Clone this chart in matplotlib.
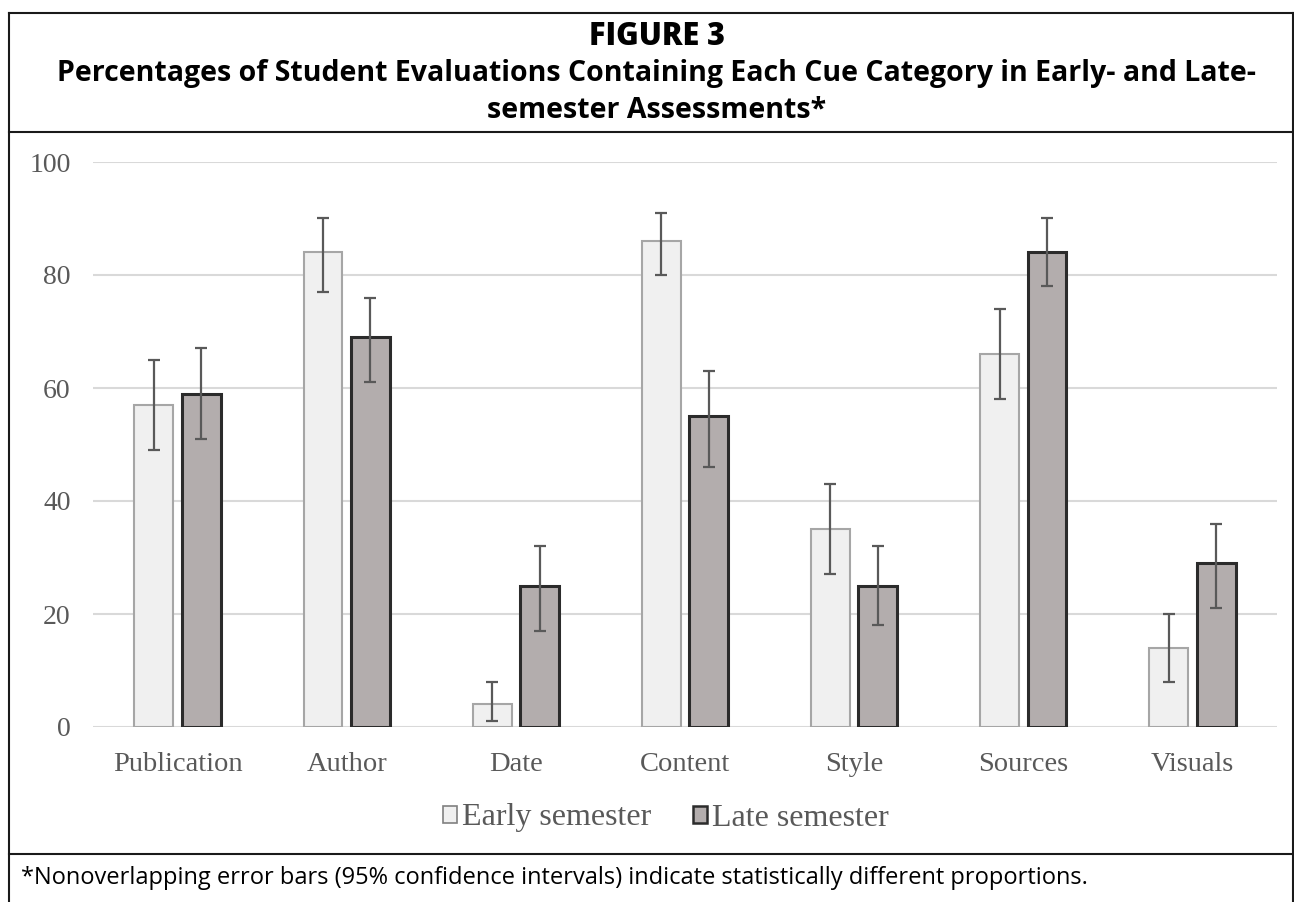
import numpy as np
import matplotlib
matplotlib.use("Agg")
import matplotlib.pyplot as plt
from matplotlib.lines import Line2D
from matplotlib.patches import Patch

categories = ["Publication", "Author", "Date", "Content", "Style", "Sources", "Visuals"]
early = [57, 84, 4, 86, 35, 66, 14]
early_lo = [49, 77, 1, 80, 27, 58, 8]
early_hi = [65, 90, 8, 91, 43, 74, 20]
late = [59, 69, 25, 55, 25, 84, 29]
late_lo = [51, 61, 17, 46, 18, 78, 21]
late_hi = [67, 76, 32, 63, 32, 90, 36]
yticks = [0, 20, 40, 60, 80, 100]

W, H = 1294, 902
fig = plt.figure(figsize=(W / 100, H / 100), dpi=100)

def fx(px):
    return px / W

def fy(py):
    return 1 - py / H

ax = fig.add_axes([fx(93), fy(727), fx(1277) - fx(93), fy(162) - fy(727)])

x = np.arange(len(categories))
bw = 0.23
off = 0.14
e_err = [np.array(early) - np.array(early_lo), np.array(early_hi) - np.array(early)]
l_err = [np.array(late) - np.array(late_lo), np.array(late_hi) - np.array(late)]

ax.bar(x - off, early, bw, color="#f0f0f0", edgecolor="#a6a6a6", linewidth=1.5, zorder=3)
ax.bar(x + off, late, bw, color="#b3adad", edgecolor="#2b2b2b", linewidth=2.2, zorder=3)
ax.errorbar(x - off, early, yerr=e_err, fmt="none", ecolor="#595959", elinewidth=1.6,
            capsize=4, capthick=1.6, zorder=4)
ax.errorbar(x + off, late, yerr=l_err, fmt="none", ecolor="#595959", elinewidth=1.6,
            capsize=4, capthick=1.6, zorder=4)

ax.set_xlim(-0.5, len(categories) - 0.5)
ax.set_ylim(0, 100)
ax.set_yticks(yticks)
ax.set_xticks(x)
ax.set_xticklabels(categories, fontsize=20.5, family="Liberation Serif", color="#595959")
ax.set_yticklabels([str(v) for v in yticks], fontsize=20, family="Liberation Serif", color="#595959")
ax.tick_params(length=0)
ax.tick_params(axis="x", pad=18)
ax.tick_params(axis="y", pad=16)
ax.grid(axis="y", color="#d9d9d9", linewidth=1.5, zorder=0)
for s in ax.spines.values():
    s.set_visible(False)

handles = [Patch(facecolor="#f0f0f0", edgecolor="#808080", linewidth=1.2, label="Early semester"),
           Patch(facecolor="#b3adad", edgecolor="#2b2b2b", linewidth=1.8, label="Late semester")]
leg = fig.legend(handles=handles, loc="center", bbox_to_anchor=(fx(666), fy(818)), ncol=2,
                 frameon=False, handlelength=0.45, handleheight=0.45, handletextpad=0.15,
                 columnspacing=1.3, prop={"family": "Liberation Serif", "size": 23})
for t in leg.get_texts():
    t.set_color("#595959")

# frame lines
lc = "#1a1a1a"
fig.add_artist(Line2D([fx(9), fx(9)], [fy(13), fy(905)], color=lc, lw=1.5))
fig.add_artist(Line2D([fx(1293), fx(1293)], [fy(13), fy(905)], color=lc, lw=1.5))
fig.add_artist(Line2D([fx(9), fx(1293)], [fy(13), fy(13)], color=lc, lw=1.5))
fig.add_artist(Line2D([fx(9), fx(1293)], [fy(132), fy(132)], color=lc, lw=1.5))
fig.add_artist(Line2D([fx(9), fx(1293)], [fy(854), fy(854)], color=lc, lw=1.5))

fig.text(fx(657), fy(37), "FIGURE 3", ha="center", va="center", fontsize=22,
         family="Open Sans", weight="heavy", color="black")
fig.text(fx(657), fy(73), "Percentages of Student Evaluations Containing Each Cue Category in Early- and Late-",
         ha="center", va="center", fontsize=20.5, family="Open Sans", weight="bold", color="black")
fig.text(fx(657), fy(110), "semester Assessments*", ha="center", va="center", fontsize=20.5,
         family="Open Sans", weight="bold", color="black")
fig.text(fx(21), fy(878), "*Nonoverlapping error bars (95% confidence intervals) indicate statistically different proportions.",
         ha="left", va="center", fontsize=17, family="Open Sans", color="black")

fig.savefig("out.png", dpi=100)
